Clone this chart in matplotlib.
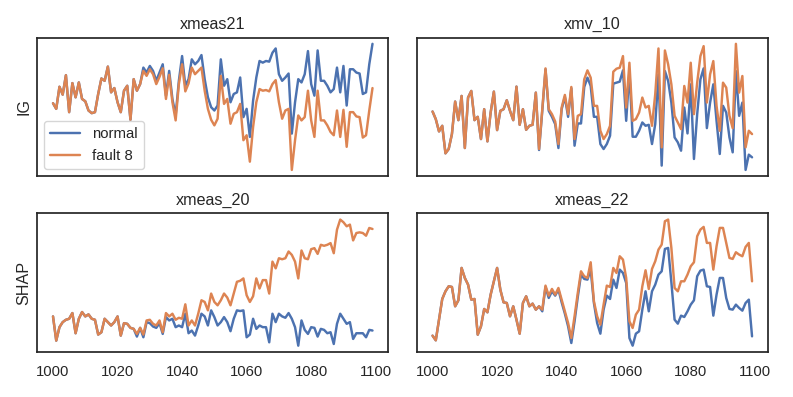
import matplotlib
matplotlib.use("Agg")
import matplotlib.pyplot as plt
import numpy as np
import seaborn as sns

# time steps
steps = np.arange(1000, 1100)

# IG - xmeas21
ig_xmeas21_fault = [222, 205, 272, 248, 307, 195, 283, 240, 285, 235,
                    228, 200, 192, 195, 250, 297, 290, 333, 255, 268,
                    225, 195, 260, 275, 172, 295, 260, 280, 320, 305,
                    325, 310, 280, 302, 328, 235, 308, 225, 170, 280,
                    340, 258, 282, 330, 310, 320, 330, 260, 205, 172,
                    155, 175, 305, 220, 235, 160, 190, 195, 220, 110,
                    125, 45, 150, 225, 265, 260, 262, 258, 280, 292,
                    225, 175, 200, 205, 20, 110, 185, 170, 180, 260,
                    170, 120, 260, 170, 170, 155, 135, 125, 200, 120,
                    202, 90, 195, 195, 182, 180, 118, 125, 200, 268]
ig_xmeas21_normal = ig_xmeas21_fault[:28] + [
    330, 315, 335, 320, 290, 315, 340, 245, 320, 235,
    185, 290, 365, 275, 295, 355, 340, 350, 368, 295,
    240, 210, 200, 215, 355, 275, 295, 225, 250, 255,
    300, 180, 205, 120, 230, 300, 350, 345, 350, 348,
    375, 388, 310, 290, 300, 312, 130, 225, 295, 285,
    310, 380, 280, 245, 382, 290, 290, 275, 255, 265,
    330, 255, 335, 215, 325, 325, 315, 312, 250, 255,
    340, 402]

# IG - xmv_10
ig_xmv10_fault = [198, 175, 138, 155, 72, 85, 130, 228, 172, 245,
                  88, 240, 260, 172, 182, 115, 205, 108, 195, 258,
                  142, 200, 205, 232, 200, 172, 273, 158, 205, 143,
                  155, 158, 255, 85, 205, 328, 205, 190, 168, 100,
                  210, 248, 190, 272, 115, 185, 190, 295, 322, 300,
                  215, 215, 140, 115, 130, 155, 318, 327, 330, 365,
                  210, 345, 170, 175, 195, 240, 210, 215, 155, 250,
                  388, 90, 382, 340, 280, 185, 165, 145, 275, 225,
                  345, 190, 285, 365, 395, 225, 310, 350, 215, 140,
                  285, 270, 185, 148, 402, 255, 305, 90, 140, 130]
ig_xmv10_normal = ig_xmv10_fault[:33] + [
    82, 200, 325, 200, 182, 160, 88, 205, 242, 182, 268, 95, 162,
    162, 272, 300, 275, 182, 182, 100, 85, 100, 125,
    282, 285, 288, 322, 170, 320, 122, 122, 140, 165,
    155, 158, 100, 160, 310, 35, 320, 290, 225, 120,
    105, 80, 210, 132, 280, 55, 190, 295, 328, 148,
    225, 280, 170, 70, 215, 195, 120, 75, 320, 185,
    225, 22, 68, 60]

# SHAP - xmeas_20
shap_xmeas20_fault = [122, 50, 90, 105, 112, 115, 132, 72, 115, 135,
                      122, 128, 115, 112, 68, 75, 115, 105, 95, 105,
                      122, 65, 102, 100, 88, 85, 70, 88, 68, 110,
                      112, 100, 95, 110, 75, 132, 122, 130, 112, 118,
                      115, 158, 95, 110, 95, 130, 170, 165, 140, 190,
                      165, 155, 170, 190, 178, 155, 190, 225, 228, 235,
                      185, 165, 182, 235, 205, 230, 230, 190, 285, 265,
                      295, 292, 295, 315, 305, 285, 235, 318, 295, 292,
                      322, 325, 308, 335, 332, 335, 340, 310, 380, 410,
                      402, 390, 395, 348, 370, 372, 370, 362, 385, 382]
shap_xmeas20_normal = shap_xmeas20_fault[:26] + [
    62, 88, 60, 105, 102, 92, 88, 102, 70, 120,
    110, 115, 90, 95, 90, 130, 72, 80, 65, 95,
    130, 122, 95, 140, 120, 95, 105, 120, 105, 78,
    115, 140, 138, 140, 60, 68, 115, 85, 95, 90,
    90, 45, 130, 105, 130, 122, 118, 132, 115, 90,
    35, 110, 82, 70, 90, 88, 62, 85, 82, 72,
    75, 40, 100, 130, 115, 100, 105, 55, 72, 72,
    72, 60, 82, 80]

# SHAP - xmeas_22
shap_xmeas22_fault = [62, 48, 110, 172, 195, 210, 208, 150, 168, 265,
                      235, 215, 170, 172, 65, 90, 142, 132, 185, 225,
                      265, 200, 162, 160, 120, 150, 110, 68, 160, 180,
                      150, 158, 140, 150, 140, 212, 182, 202, 185, 205,
                      170, 135, 100, 55, 120, 190, 255, 240, 235, 282,
                      165, 120, 95, 155, 212, 208, 265, 250, 300, 290,
                      235, 105, 85, 125, 140, 210, 258, 202, 262, 285,
                      320, 335, 405, 410, 325, 205, 195, 225, 225, 245,
                      270, 282, 360, 380, 388, 340, 340, 260, 330, 385,
                      385, 340, 295, 292, 312, 305, 300, 328, 340, 225]
shap_xmeas22_normal = shap_xmeas22_fault[:34] + [
    135, 208, 175, 195, 182, 200, 162, 128, 90, 40, 105, 178,
    245, 232, 230, 260, 160, 100, 68, 140, 182, 172,
    230, 205, 260, 250, 220, 55, 32, 68, 75, 140,
    195, 135, 195, 215, 245, 255, 322, 325, 222, 110,
    98, 122, 118, 135, 155, 168, 240, 257, 260, 210,
    208, 122, 185, 235, 235, 175, 142, 140, 155, 145,
    137, 160, 170, 60]

titles = ["xmeas21", "xmv_10", "xmeas_20", "xmeas_22"]
normals = [ig_xmeas21_normal, ig_xmv10_normal, shap_xmeas20_normal, shap_xmeas22_normal]
faults = [ig_xmeas21_fault, ig_xmv10_fault, shap_xmeas20_fault, shap_xmeas22_fault]

sns.set_theme(style="white", context="notebook")
plt.rcParams["font.family"] = ["Liberation Sans", "DejaVu Sans"]
pal = sns.color_palette("deep")

fig, axes = plt.subplots(2, 2, figsize=(7.93, 3.97), dpi=100, sharex=True)
fig.subplots_adjust(left=0.0467, right=0.9685, bottom=0.1134, top=0.9055,
                    wspace=0.08, hspace=0.267)
ax = axes.ravel()

for i in range(4):
    ax[i].plot(steps, normals[i], color=pal[0], lw=1.75, label="normal")
    ax[i].plot(steps, faults[i], color=pal[1], lw=1.75, label="fault 8")
    ax[i].set_title(titles[i], fontsize=11.6)
    ax[i].set_yticks([])
    ax[i].tick_params(axis="x", labelsize=10.7)
    for s in ax[i].spines.values():
        s.set_color("0.15")
        s.set_linewidth(1.25)

ax[0].set_ylabel("IG", fontsize=11.6)
ax[2].set_ylabel("SHAP", fontsize=11.6)
ax[0].legend(loc="lower left", fontsize=10.7)
ax[2].set_xticks([1000, 1020, 1040, 1060, 1080, 1100])

fig.savefig("out.png", dpi=100)
